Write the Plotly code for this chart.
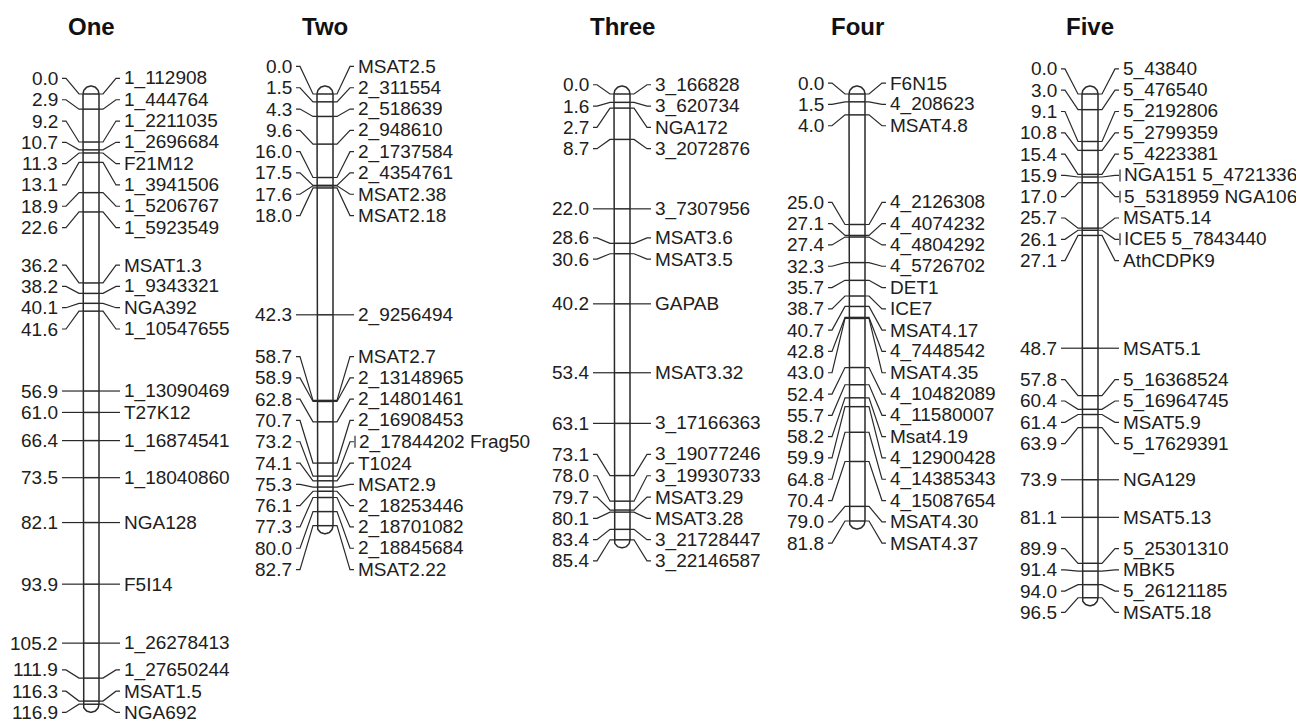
import numpy as np
import plotly.graph_objects as go

# ---------------- data ----------------
chrom_titles = ["One", "Two", "Three", "Four", "Five"]

one_pos = [0.0, 2.9, 9.2, 10.7, 11.3, 13.1, 18.9, 22.6, 36.2, 38.2, 40.1, 41.6,
           56.9, 61.0, 66.4, 73.5, 82.1, 93.9, 105.2, 111.9, 116.3, 116.9]
one_names = ["1_112908", "1_444764", "1_2211035", "1_2696684", "F21M12", "1_3941506",
             "1_5206767", "1_5923549", "MSAT1.3", "1_9343321", "NGA392", "1_10547655",
             "1_13090469", "T27K12", "1_16874541", "1_18040860", "NGA128", "F5I14",
             "1_26278413", "1_27650244", "MSAT1.5", "NGA692"]

two_pos = [0.0, 1.5, 4.3, 9.6, 16.0, 17.5, 17.6, 18.0, 42.3, 58.7, 58.9, 62.8,
           70.7, 73.2, 74.1, 75.3, 76.1, 77.3, 80.0, 82.7]
two_names = ["MSAT2.5", "2_311554", "2_518639", "2_948610", "2_1737584", "2_4354761",
             "MSAT2.38", "MSAT2.18", "2_9256494", "MSAT2.7", "2_13148965", "2_14801461",
             "2_16908453", "2_17844202 Frag50", "T1024", "MSAT2.9", "2_18253446",
             "2_18701082", "2_18845684", "MSAT2.22"]

three_pos = [0.0, 1.6, 2.7, 8.7, 22.0, 28.6, 30.6, 40.2, 53.4, 63.1, 73.1, 78.0,
             79.7, 80.1, 83.4, 85.4]
three_names = ["3_166828", "3_620734", "NGA172", "3_2072876", "3_7307956", "MSAT3.6",
               "MSAT3.5", "GAPAB", "MSAT3.32", "3_17166363", "3_19077246", "3_19930733",
               "MSAT3.29", "MSAT3.28", "3_21728447", "3_22146587"]

four_pos = [0.0, 1.5, 4.0, 25.0, 27.1, 27.4, 32.3, 35.7, 38.7, 40.7, 42.8, 43.0,
            52.4, 55.7, 58.2, 59.9, 64.8, 70.4, 79.0, 81.8]
four_names = ["F6N15", "4_208623", "MSAT4.8", "4_2126308", "4_4074232", "4_4804292",
              "4_5726702", "DET1", "ICE7", "MSAT4.17", "4_7448542", "MSAT4.35",
              "4_10482089", "4_11580007", "Msat4.19", "4_12900428", "4_14385343",
              "4_15087654", "MSAT4.30", "MSAT4.37"]

five_pos = [0.0, 3.0, 9.1, 10.8, 15.4, 15.9, 17.0, 25.7, 26.1, 27.1, 48.7, 57.8,
            60.4, 61.4, 63.9, 73.9, 81.1, 89.9, 91.4, 94.0, 96.5]
five_names = ["5_43840", "5_476540", "5_2192806", "5_2799359", "5_4223381",
              "NGA151 5_4721336", "5_5318959 NGA106", "MSAT5.14", "ICE5 5_7843440",
              "AthCDPK9", "MSAT5.1", "5_16368524", "5_16964745", "MSAT5.9", "5_17629391",
              "NGA129", "MSAT5.13", "5_25301310", "MBK5", "5_26121185", "MSAT5.18"]

positions = [one_pos, two_pos, three_pos, four_pos, five_pos]
names = [one_names, two_names, three_names, four_names, five_names]

# ---------------- layout constants ----------------
W, H = 1296, 723
PX_PER_CM = 5.22
Y0_PX = 94
CENTERS = [91, 325, 622, 857, 1090]
HALF_W = 8
GAP = 24
LABEL_SPACING_PX = 21.3
LINE_COL = "#2a2a2a"
TEXT_COL = "#202020"
FONT = "Liberation Sans, Arial, sans-serif"
LABEL_SIZE = 19
TITLE_SIZE = 24


def px_to_cm(py):
    return (py - Y0_PX) / PX_PER_CM


def spread_labels(pos, spacing):
    """Group overlapping labels and centre each group on the middle of its markers."""
    groups = [[p] for p in sorted(pos)]

    def span(g):
        c = (g[0] + g[-1]) / 2.0
        n = len(g)
        return c - (n - 1) / 2.0 * spacing, c + (n - 1) / 2.0 * spacing

    changed = True
    while changed:
        changed = False
        for i in range(len(groups) - 1):
            if span(groups[i])[1] + spacing > span(groups[i + 1])[0] + 1e-9:
                groups[i] = groups[i] + groups[i + 1]
                del groups[i + 1]
                changed = True
                break
    out = []
    for g in groups:
        s0 = span(g)[0]
        out += [s0 + k * spacing for k in range(len(g))]
    return out


fig = go.Figure()
annotations = []
r_cm = HALF_W / PX_PER_CM
spacing_cm = LABEL_SPACING_PX / PX_PER_CM
lab_font = dict(family=FONT, size=LABEL_SIZE, color=TEXT_COL)

for ci, (pos, nms) in enumerate(zip(positions, names)):
    cx = CENTERS[ci]
    xl, xr = cx - HALF_W, cx + HALF_W
    top, bot = min(pos), max(pos)

    # chromosome outline with rounded caps
    t = np.linspace(0, np.pi, 30)
    bx = [xl, xl] + list(cx - HALF_W * np.cos(t)) + [xr, xr] + list(cx + HALF_W * np.cos(t))
    by = [top, bot] + list(bot + r_cm * np.sin(t)) + [bot, top] + list(top - r_cm * np.sin(t))
    fig.add_trace(go.Scatter(x=bx, y=by, mode="lines", fill="toself", fillcolor="white",
                             line=dict(color=LINE_COL, width=1.5), hoverinfo="skip",
                             showlegend=False))

    labels_y = spread_labels(pos, spacing_cm)

    tx, ty, lx, ly, rx, ry, vx, vy = [], [], [], [], [], [], [], []
    for p, lab_y, nm in zip(pos, labels_y, nms):
        multi = " " in nm
        tx += [xl, xr, None]
        ty += [p, p, None]
        lx += [xl - GAP + 3, xl - GAP + 7, xl - 4, xl, None]
        ly += [lab_y, lab_y, p, p, None]
        rx += [xr, xr + 4, xr + GAP - 7, xr + GAP - 3, None]
        ry += [p, p, lab_y, lab_y, None]
        if multi:
            hh = 6 / PX_PER_CM
            vx += [xr + GAP - 2, xr + GAP - 2, None]
            vy += [lab_y - hh, lab_y + hh, None]
        annotations.append(dict(x=xl - GAP + 1, y=lab_y, text=f"{p:.1f}", xanchor="right",
                                yanchor="middle", showarrow=False, font=lab_font))
        annotations.append(dict(x=xr + GAP - 1 + (1 if multi else 0), y=lab_y, text=nm,
                                xanchor="left", yanchor="middle", showarrow=False,
                                font=lab_font))

    for xx, yy, w in [(tx, ty, 1.5), (lx, ly, 1.2), (rx, ry, 1.2), (vx, vy, 1.2)]:
        if xx:
            fig.add_trace(go.Scatter(x=xx, y=yy, mode="lines",
                                     line=dict(color=LINE_COL, width=w),
                                     hoverinfo="skip", showlegend=False))

    annotations.append(dict(x=cx, y=px_to_cm(26), text=f"<b>{chrom_titles[ci]}</b>",
                            xanchor="center", yanchor="middle", showarrow=False,
                            font=dict(family=FONT, size=TITLE_SIZE, color="#111111")))

fig.update_layout(
    width=W, height=H,
    margin=dict(l=0, r=0, t=0, b=0),
    paper_bgcolor="white", plot_bgcolor="white",
    xaxis=dict(range=[0, W], visible=False, fixedrange=True),
    yaxis=dict(range=[px_to_cm(H), px_to_cm(0)], visible=False, fixedrange=True),
    annotations=annotations,
    showlegend=False,
)

fig.write_html("out.html")
